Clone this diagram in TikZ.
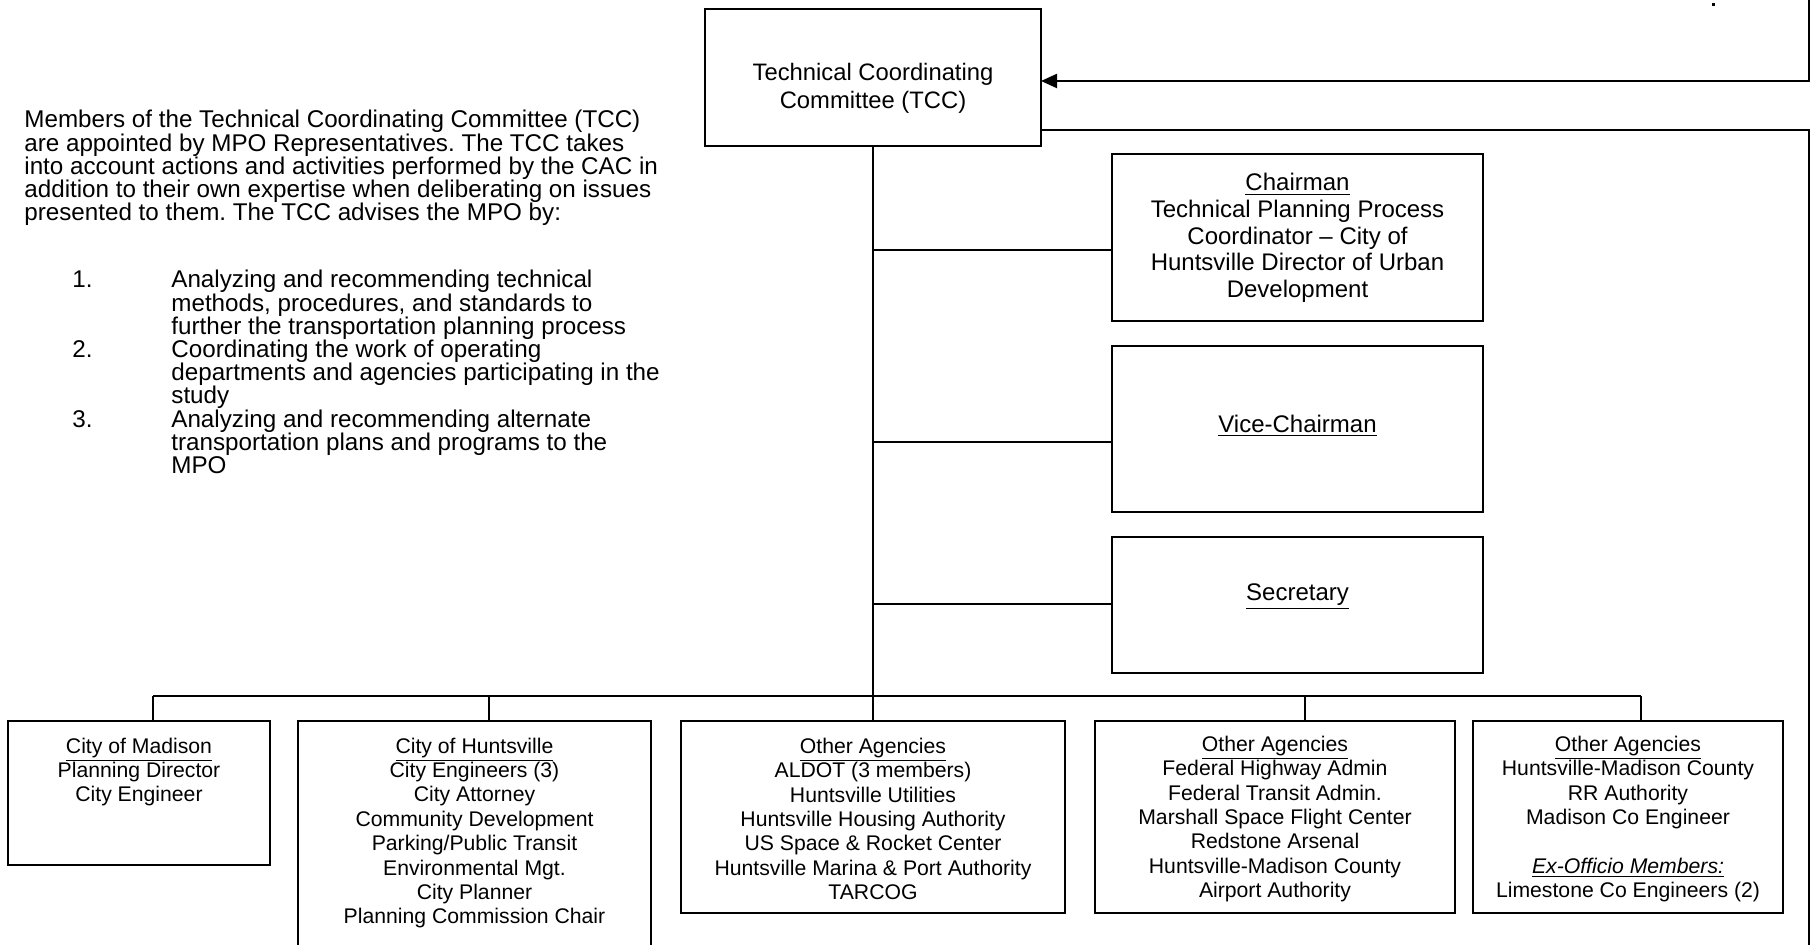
\documentclass[tikz,border=0pt]{standalone}
\usepackage{fontspec}
\setmainfont{Liberation Sans}
\usetikzlibrary{arrows.meta}
\frenchspacing
\begin{document}
\begin{tikzpicture}[x=0.5pt,y=-0.5pt,
  box/.style={draw, line width=1.1pt, inner sep=0pt, outer sep=0pt},
  conn/.style={line width=0.8pt},
  link/.style={line width=1.1pt},
  para/.style={inner sep=0pt, align=left, font=\fontsize{12.1}{11.6}\selectfont},
  tcctext/.style={inner sep=0pt, align=center, font=\fontsize{11.9}{13.9}\selectfont},
  offtext/.style={inner sep=0pt, align=center, font=\fontsize{12}{13.3}\selectfont},
  grptext/.style={inner sep=0pt, align=center, font=\fontsize{10.6}{12.2}\selectfont}]
\useasboundingbox (0,0) rectangle (1815,945);

% boxes
\node[box, minimum width=168pt, minimum height=68.5pt] (tcc) at (873,77.5) {};
\node[box, minimum width=185.5pt, minimum height=83.5pt] (chair) at (1297.5,237.5) {};
\node[box, minimum width=185.5pt, minimum height=83pt] (vice) at (1297.5,429) {};
\node[box, minimum width=185.5pt, minimum height=68pt] (sec) at (1297.5,605) {};
\node[box, minimum width=131pt, minimum height=72pt] (madison) at (139,793) {};
\node[box, minimum width=176.5pt, minimum height=127pt] (huntsville) at (474.5,848) {};
\node[box, minimum width=192pt, minimum height=96pt] (oa1) at (873,817) {};
\node[box, minimum width=180pt, minimum height=96pt] (oa2) at (1275,817) {};
\node[box, minimum width=155pt, minimum height=96pt] (oa3) at (1628,817) {};

% texts
\node[tcctext] (tcct) at (873,88.5) {Technical Coordinating\\Committee (TCC)};
\node[offtext] (chairt) at (1297.5,238) {\underline{Chairman}\\Technical Planning Process\\Coordinator – City of\\Huntsville Director of Urban\\Development};
\node[offtext] (vicet) at (1297.5,425.5) {\underline{Vice-Chairman}};
\node[offtext] (sect) at (1297.5,596.5) {\underline{Secretary}};
\node[grptext] (madisont) at (139,772) {\underline{City of Madison}\\Planning Director\\City Engineer};
\node[grptext] (huntsvillet) at (474.5,833) {\underline{City of Huntsville}\\City Engineers (3)\\City Attorney\\Community Development\\Parking/Public Transit\\Environmental Mgt.\\City Planner\\Planning Commission Chair};
\node[grptext] (oa1t) at (873,819) {\underline{Other Agencies}\\ALDOT (3 members)\\Huntsville Utilities\\Huntsville Housing Authority\\US Space \& Rocket Center\\Huntsville Marina \& Port Authority\\TARCOG};
\node[grptext] (oa2t) at (1275,819) {\underline{Other Agencies}\\Federal Highway Admin\\Federal Transit Admin.\\Marshall Space Flight Center\\Redstone Arsenal\\Huntsville-Madison County\\Airport Authority};
\node[grptext] (oa3t) at (1628,819) {\underline{Other Agencies}\\Huntsville-Madison County\\RR Authority\\Madison Co Engineer\\[12.2pt]\underline{\textit{Ex-Officio Members:}}\\Limestone Co Engineers (2)};

\node[para, anchor=west] (intro) at (24,168) {Members of the Technical Coordinating Committee (TCC)\\are appointed by MPO Representatives. The TCC takes\\into account actions and activities performed by the CAC in\\addition to their own expertise when deliberating on issues\\presented to them. The TCC advises the MPO by:};
\node[para, anchor=west] (items) at (72,372) {\makebox[49.5pt][l]{1.}Analyzing and recommending technical\\\hspace*{49.5pt}methods, procedures, and standards to\\\hspace*{49.5pt}further the transportation planning process\\\makebox[49.5pt][l]{2.}Coordinating the work of operating\\\hspace*{49.5pt}departments and agencies participating in the\\\hspace*{49.5pt}study\\\makebox[49.5pt][l]{3.}Analyzing and recommending alternate\\\hspace*{49.5pt}transportation plans and programs to the\\\hspace*{49.5pt}MPO};

% coordinates
\coordinate (d1) at (153,696);
\coordinate (d2) at (489,696);
\coordinate (d3) at (873,696);
\coordinate (d4) at (1305,696);
\coordinate (d5) at (1641,696);
\coordinate (b1) at (873,250);
\coordinate (b2) at (873,442);
\coordinate (b3) at (873,604);
\coordinate (tr) at (1809,0);
\coordinate (ay) at (0,81);
\coordinate (ly) at (0,130);
\coordinate (brc) at (1809,950);

% connectors
\draw[conn] (tcc.south) -- (d3);
\draw[conn] (b1) -- (chair.west |- b1);
\draw[conn] (b2) -- (vice.west |- b2);
\draw[conn] (b3) -- (sec.west |- b3);
\draw[conn] (d1) -- (d5);
\draw[conn] (d1) -- (d1 |- madison.north);
\draw[conn] (d2) -- (d2 |- huntsville.north);
\draw[conn] (d3) -- (oa1.north);
\draw[conn] (d4) -- (d4 |- oa2.north);
\draw[conn] (d5) -- (d5 |- oa3.north);
\draw[link, -{Triangle[length=8pt,width=7pt]}] (tr) |- (tcc.east |- ay);
\draw[link] (tcc.east |- ly) -| (brc);
\fill (1712,3.5) rectangle (1714.5,6);
\end{tikzpicture}
\end{document}
